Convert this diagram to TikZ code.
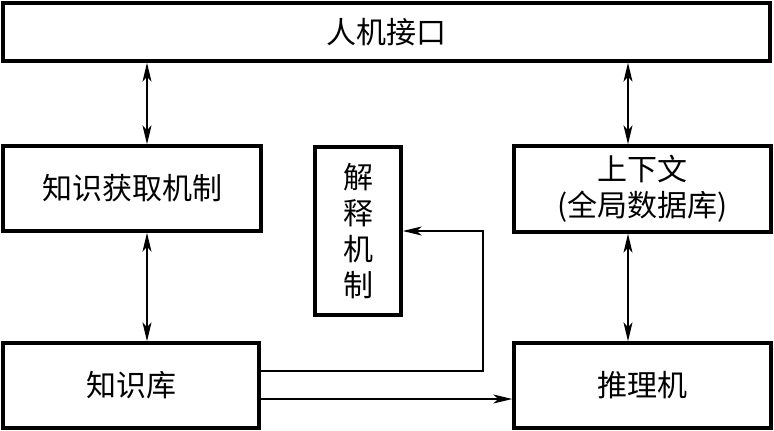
\documentclass[tikz,border=0pt]{standalone}
\usepackage{fontspec}
\setmainfont{Noto Sans CJK SC}
\usetikzlibrary{arrows.meta}
\begin{document}
\begin{tikzpicture}[x=1pt, y=-1pt,
	box/.style={draw, line width=3.4pt, inner sep=0pt, align=center, font=\fontsize{30}{36}\selectfont},
	link/.style={line width=1.4pt},
	tip/.style={link, -{Stealth[length=19pt, width=9pt, inset=5pt]}},
	both/.style={link, {Stealth[length=19pt, width=9pt, inset=5pt]}-{Stealth[length=19pt, width=9pt, inset=5pt]}}]
	\useasboundingbox (0,0) rectangle (774,431);

	\node[box, minimum width=767pt, minimum height=58pt] (hmi) at (386.5, 32) {人机接口};
	\node[box, minimum width=258pt, minimum height=85pt] (acq) at (132, 188.5) {知识获取机制};
	\node[box, minimum width=86pt, minimum height=168pt] (expl) at (358, 231) {解\\释\\机\\制};
	\node[box, minimum width=257pt, minimum height=86pt] (ctx) at (642.5, 189) {上下文\\(全局数据库)};
	\node[box, minimum width=256pt, minimum height=85pt] (kb) at (131, 385.5) {知识库};
	\node[box, minimum width=257pt, minimum height=85pt] (inf) at (642.5, 385.5) {推理机};

	\coordinate (lx) at (147, 0);
	\coordinate (rx) at (628, 0);
	\coordinate (bend) at (483, 371);

	\draw[both] (hmi.south -| lx) -- (acq.north -| lx);
	\draw[both] (acq.south -| lx) -- (kb.north -| lx);
	\draw[both] (hmi.south -| rx) -- (ctx.north -| rx);
	\draw[both] (ctx.south -| rx) -- (inf.north -| rx);
	\draw[tip] (kb.east |- bend) -- (bend) |- (expl.east);
	\draw[tip] ([yshift=-13.5pt]kb.east) -- ([yshift=-13.5pt]inf.west);
\end{tikzpicture}
\end{document}
